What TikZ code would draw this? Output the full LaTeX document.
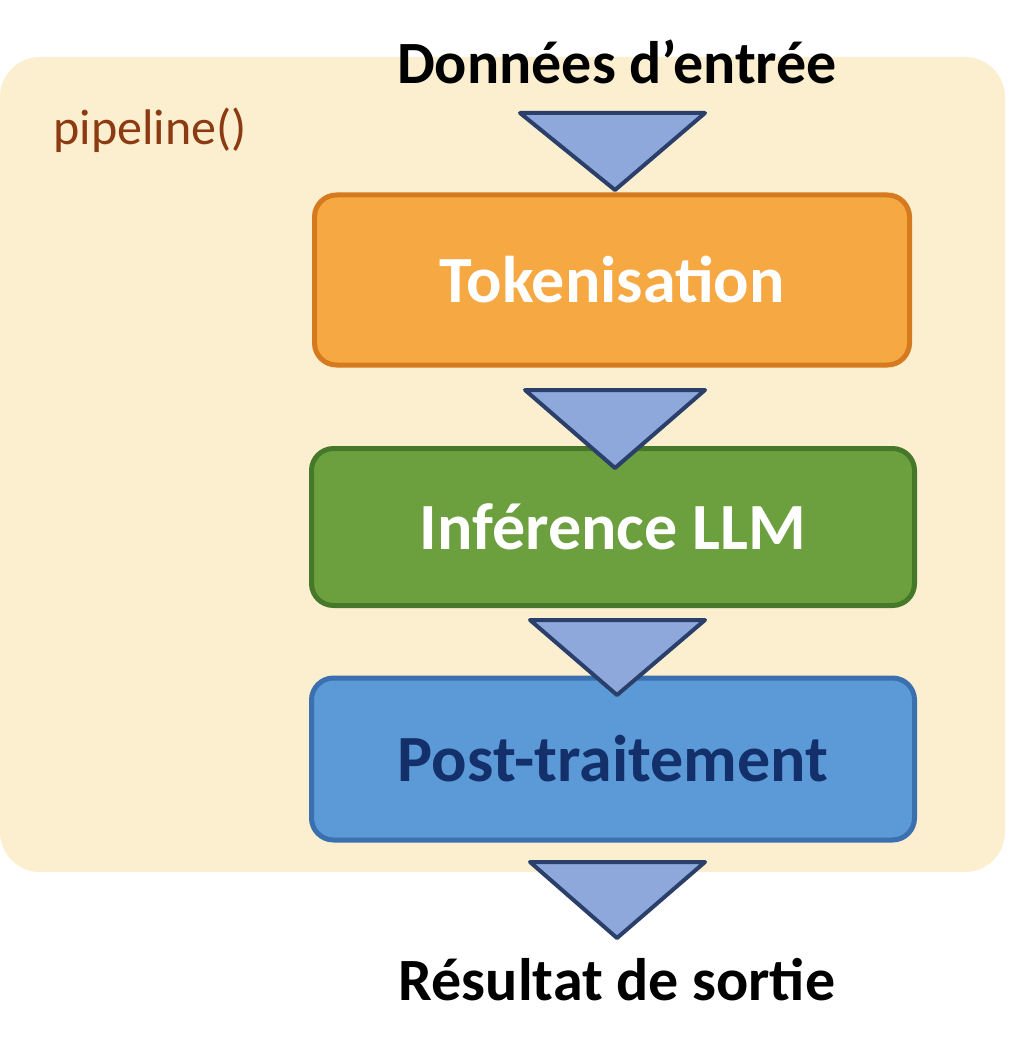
\documentclass[tikz,border=0pt]{standalone}
\usepackage{fontspec}
\setmainfont{Carlito}
\definecolor{bg}{HTML}{FBEFCF}
\definecolor{brn}{HTML}{8B3A12}
\definecolor{trif}{HTML}{8FA8DC}
\definecolor{tris}{HTML}{2B3F6B}
\definecolor{orf}{HTML}{F6A843}
\definecolor{ors}{HTML}{D57A1E}
\definecolor{grf}{HTML}{6C9F3E}
\definecolor{grs}{HTML}{46782A}
\definecolor{blf}{HTML}{5B9AD6}
\definecolor{bls}{HTML}{3A6FB0}
\definecolor{nav}{HTML}{14306A}
\begin{document}
\begin{tikzpicture}[x=1pt,y=-1pt,
  box/.style={draw,line width=5pt,rounded corners=22pt,font=\fontsize{66}{70}\selectfont\bfseries},
  tri/.style={draw=tris,fill=trif,line width=4pt,line join=round},
  lbl/.style={font=\fontsize{60}{64}\selectfont\bfseries,text=black}]
\useasboundingbox (0,0) rectangle (1008,1056);
\fill[bg,rounded corners=40pt] (0,57) rectangle (1005,872);
\node[anchor=west,text=brn,font=\fontsize{50}{54}\selectfont] (p) at (50,130) {pipeline()};
\node[lbl] (in) at (617,62) {Données d’entrée};
\node[box,draw=ors,fill=orf,text=white,minimum width=595pt,minimum height=170pt] (t) at (612,280) {Tokenisation};
\node[box,draw=grs,fill=grf,text=white,minimum width=603pt,minimum height=157pt] (i) at (613,527) {Inférence LLM};
\node[box,draw=bls,fill=blf,text=nav,minimum width=603pt,minimum height=162pt] (pt) at (613,759) {Post-traitement};
\node[lbl] (out) at (617,980) {Résultat de sortie};
\draw[tri] (520,113) -- (705,113) -- (615,190) -- cycle;
\draw[tri] (525,390) -- (705,390) -- (615,468) -- cycle;
\draw[tri] (530,620) -- (705,620) -- (617,695) -- cycle;
\draw[tri] (530,862) -- (705,862) -- (617,938) -- cycle;
\end{tikzpicture}
\end{document}
